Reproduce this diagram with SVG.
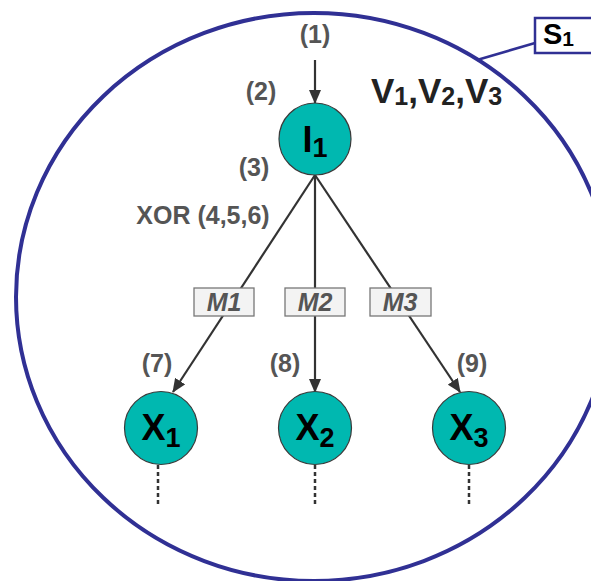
<svg xmlns="http://www.w3.org/2000/svg" width="591" height="581" viewBox="0 0 591 581">
<style>
.lbl{font-family:"Liberation Sans",Arial,sans-serif;font-weight:bold;font-size:25px;fill:#555555;text-anchor:middle}
.big{font-family:"Liberation Sans",Arial,sans-serif;font-weight:bold;font-size:36px;fill:#000000;text-anchor:middle}
.node{fill:#00b8b0;stroke:#3a3a3a;stroke-width:1.2}
.conn{stroke:#333333;stroke-width:2.2;fill:none}
.dot{stroke:#333333;stroke-width:2.5;stroke-dasharray:4 3;fill:none}
.mbox{fill:#f3f3f3;stroke:#777777;stroke-width:1.3}
.mtxt{font-family:"Liberation Sans",Arial,sans-serif;font-weight:bold;font-style:italic;font-size:25px;fill:#555555;text-anchor:middle}
.blue{stroke:#303094;fill:none}
</style>
<defs>
<marker id="arr" markerUnits="userSpaceOnUse" markerWidth="14" markerHeight="12" refX="13" refY="6" orient="auto">
<path d="M0,0 L14,6 L0,12 Z" fill="#333333"/>
</marker>
</defs>
<rect width="591" height="581" fill="#ffffff"/>
<g id="scope">
<ellipse class="blue" cx="314" cy="297" rx="298" ry="284" stroke-width="4"/>
<line class="blue" x1="477" y1="60" x2="535" y2="43" stroke-width="2.5"/>
</g>
<g id="S1">
<rect class="blue" x="535" y="18" width="70" height="35" stroke-width="2.5" fill="#ffffff"/>
<text x="543" y="44" font-family="'Liberation Sans',Arial,sans-serif" font-weight="bold" font-size="29" fill="#000">S<tspan font-size="21" dy="2">1</tspan></text>
</g>
<g id="connectors">
<line class="conn" x1="315" y1="60" x2="315" y2="103" marker-end="url(#arr)"/>
<line class="conn" x1="315" y1="175" x2="173" y2="392" marker-end="url(#arr)"/>
<line class="conn" x1="315" y1="175" x2="315" y2="392" marker-end="url(#arr)"/>
<line class="conn" x1="315" y1="175" x2="460" y2="392" marker-end="url(#arr)"/>
<line class="dot" x1="158" y1="465" x2="158" y2="507"/>
<line class="dot" x1="315" y1="465" x2="315" y2="507"/>
<line class="dot" x1="469" y1="465" x2="469" y2="507"/>
</g>
<g id="labels">
<text class="lbl" x="315" y="43">(1)</text>
<text class="lbl" x="261" y="100">(2)</text>
<text class="lbl" x="254" y="176">(3)</text>
<text class="lbl" x="203" y="224">XOR (4,5,6)</text>
<text class="lbl" x="157" y="372">(7)</text>
<text class="lbl" x="285" y="372">(8)</text>
<text class="lbl" x="472" y="372">(9)</text>
<text x="371" y="103" font-family="'Liberation Sans',Arial,sans-serif" font-weight="bold" font-size="35" fill="#222222">V<tspan font-size="25" dy="2">1</tspan><tspan dy="-2">,V</tspan><tspan font-size="25" dy="2">2</tspan><tspan dy="-2">,V</tspan><tspan font-size="25" dy="2">3</tspan></text>
</g>
<g id="M1">
<rect class="mbox" x="194" y="288" width="60" height="28"/>
<text class="mtxt" x="224" y="311">M1</text>
</g>
<g id="M2">
<rect class="mbox" x="285" y="288" width="60" height="28"/>
<text class="mtxt" x="315" y="311">M2</text>
</g>
<g id="M3">
<rect class="mbox" x="370" y="288" width="61" height="28"/>
<text class="mtxt" x="400" y="311">M3</text>
</g>
<g id="I1">
<circle class="node" cx="315" cy="139" r="36"/>
<text class="big" x="315" y="152">I<tspan font-size="27" dy="5">1</tspan></text>
</g>
<g id="X1">
<circle class="node" cx="161" cy="428" r="36.5"/>
<text class="big" x="161" y="440">X<tspan font-size="27" dy="7">1</tspan></text>
</g>
<g id="X2">
<circle class="node" cx="315" cy="428" r="36.5"/>
<text class="big" x="315" y="440">X<tspan font-size="27" dy="7">2</tspan></text>
</g>
<g id="X3">
<circle class="node" cx="469" cy="428" r="36.5"/>
<text class="big" x="469" y="440">X<tspan font-size="27" dy="7">3</tspan></text>
</g>
</svg>
